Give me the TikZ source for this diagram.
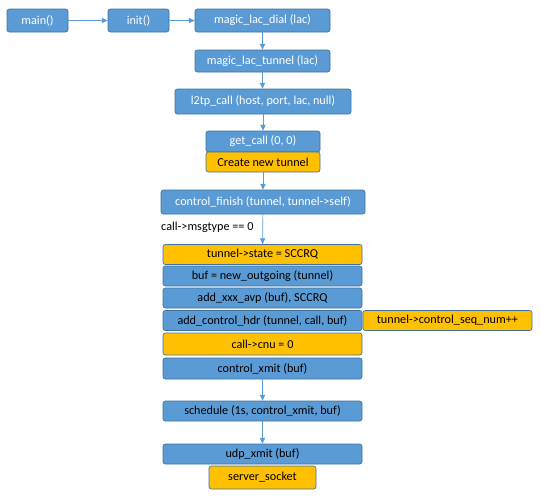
\documentclass[tikz,border=0pt]{standalone}
\usepackage{fontspec}
\setmainfont{Carlito}
\definecolor{flowblue}{RGB}{91,155,213}
\definecolor{flowedge}{RGB}{65,113,156}
\definecolor{flowgold}{RGB}{255,192,0}
\usetikzlibrary{arrows.meta,positioning}
\begin{document}
\begin{tikzpicture}[
  callbox/.style={
    rectangle, rounded corners=2pt,
    minimum height=0.6cm, inner sep=1pt,
    draw=flowedge, line width=0.6pt,
    fill=flowblue,
    font=\fontsize{10.4}{12}\selectfont,
    align=center,
    text=white
  },
  stepbox/.style={callbox, text=black},
  notebox/.style={callbox, fill=flowgold, text=black},
  conn/.style={-{Triangle[length=5pt,width=4.5pt]}, line width=0.6pt, draw=flowblue}
]
\useasboundingbox (0,0) rectangle (16.2,-14.97);

\node[callbox, minimum width=1.83cm, minimum height=0.69cm] (main) at (1.125,-0.615) {main()};
\node[callbox, minimum width=1.83cm, minimum height=0.69cm] (init) at (4.155,-0.615) {init()};
\node[callbox, minimum width=4.05cm, minimum height=0.69cm] (dial) at (7.875,-0.615) {magic\_lac\_dial (lac)};
\node[callbox, minimum width=4.05cm, minimum height=0.66cm] (tunnel) at (7.875,-1.83) {magic\_lac\_tunnel (lac)};
\node[callbox, minimum width=5.28cm, minimum height=0.75cm] (l2tp) at (7.89,-3.045) {l2tp\_call (host, port, lac, null)};
\node[callbox, minimum width=3.42cm, minimum height=0.63cm] (getcall) at (7.89,-4.245) {get\_call (0, 0)};
\node[notebox, minimum width=3.42cm, minimum height=0.6cm] (create) at (7.89,-4.86) {Create new tunnel};
\node[callbox, minimum width=6.12cm, minimum height=0.72cm] (finish) at (7.89,-6.06) {control\_finish (tunnel, tunnel->self)};

\node[font=\fontsize{10.4}{12}\selectfont, anchor=west, inner sep=0pt] (msgtype) at (4.83,-6.81) {call->msgtype == 0};

\node[notebox, minimum width=5.97cm] (state) at (7.875,-7.635) {tunnel->state = SCCRQ};
\node[stepbox, minimum width=5.97cm] (buf) at (7.875,-8.28) {buf = new\_outgoing (tunnel)};
\node[stepbox, minimum width=5.97cm] (avp) at (7.875,-8.94) {add\_xxx\_avp (buf), SCCRQ};
\node[stepbox, minimum width=5.97cm] (hdr) at (7.875,-9.615) {add\_control\_hdr (tunnel, call, buf)};
\node[notebox, minimum width=5.07cm] (seqnum) at (13.425,-9.615) {tunnel->control\_seq\_num++};
\node[notebox, minimum width=5.97cm, minimum height=0.66cm] (cnu) at (7.875,-10.32) {call->cnu = 0};
\node[stepbox, minimum width=5.97cm, minimum height=0.63cm] (xmit) at (7.875,-11.055) {control\_xmit (buf)};
\node[stepbox, minimum width=5.97cm] (sched) at (7.875,-12.33) {schedule (1s, control\_xmit, buf)};
\node[stepbox, minimum width=5.97cm] (udp) at (7.875,-13.62) {udp\_xmit (buf)};
\node[notebox, minimum width=3.21cm, minimum height=0.69cm] (socket) at (7.875,-14.325) {server\_socket};

\draw[conn] (main) -- (init);
\draw[conn] (init) -- (dial);
\draw[conn] (dial) -- (tunnel);
\draw[conn] (tunnel) -- (tunnel |- l2tp.north);
\draw[conn] (l2tp) -- (getcall);
\draw[conn] (create) -- (finish);
\draw[conn] (finish) -- (state);
\draw[conn] (xmit) -- (sched);
\draw[conn] (sched) -- (udp);
\end{tikzpicture}
\end{document}
